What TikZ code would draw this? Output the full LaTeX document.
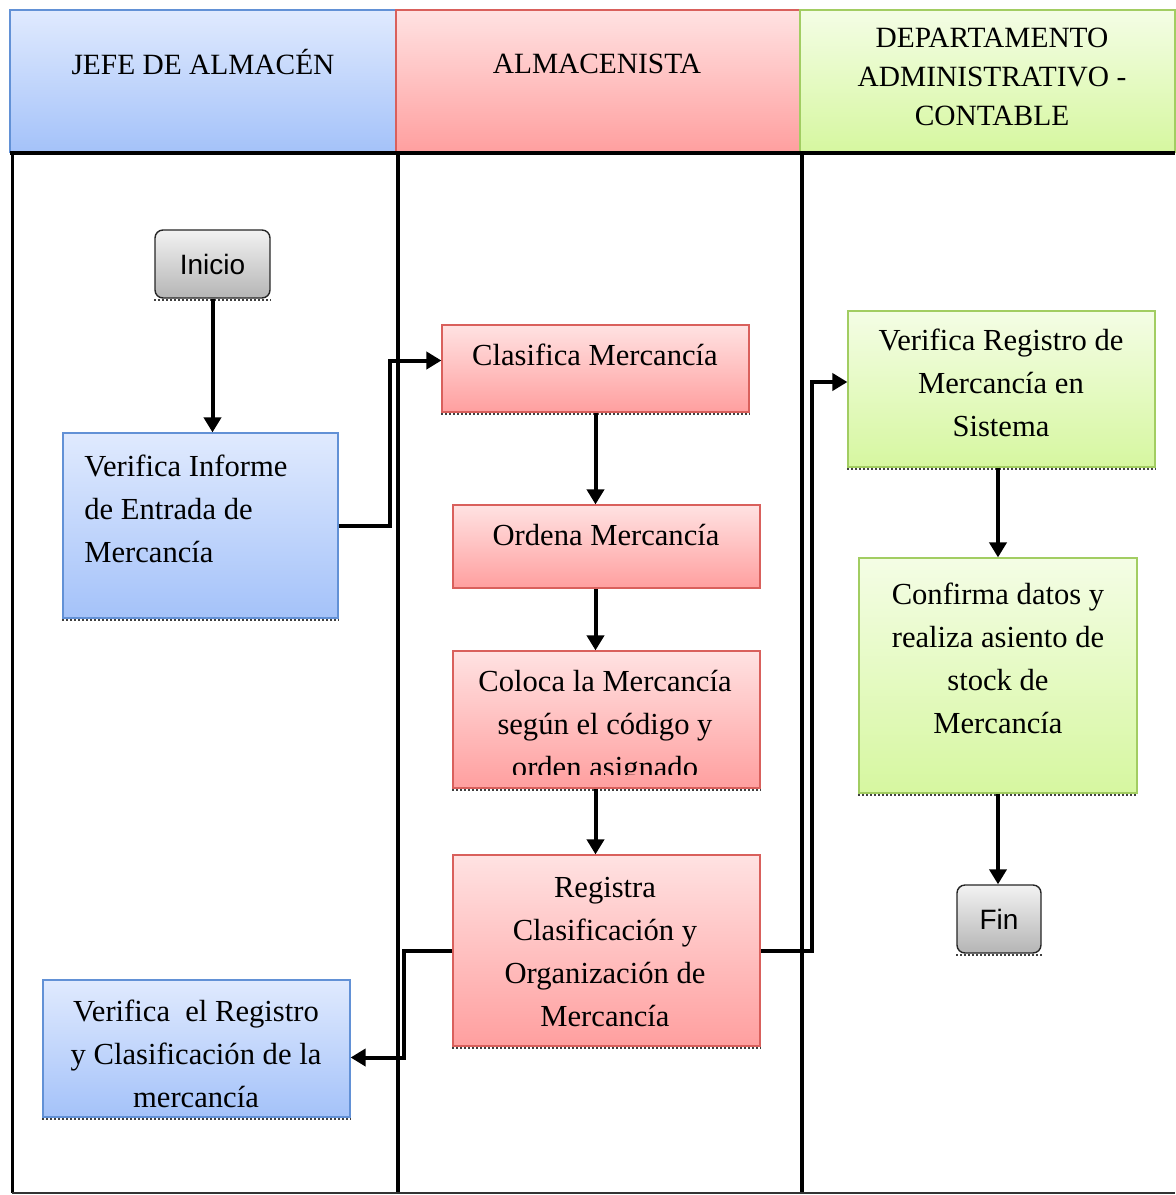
\documentclass[tikz,border=0pt]{standalone}
\usepackage{fontspec}
\setmainfont{Liberation Serif}
\newfontfamily\sansfnt{Liberation Sans}
\usetikzlibrary{arrows.meta,calc}

% palette
\definecolor{blueT}{HTML}{E0EAFE}
\definecolor{blueB}{HTML}{A4C2F9}
\definecolor{blueE}{HTML}{6291D6}
\definecolor{redT}{HTML}{FFE2E2}
\definecolor{redB}{HTML}{FF9F9F}
\definecolor{redE}{HTML}{D9605C}
\definecolor{greenT}{HTML}{F4FDE5}
\definecolor{greenB}{HTML}{D6F7A0}
\definecolor{greenE}{HTML}{A2CD62}
\definecolor{grayT}{HTML}{F2F2F2}
\definecolor{grayB}{HTML}{B5B5B5}

\newcommand\boxfnt{\fontsize{15.3}{21.5}\selectfont}
\newcommand\hdrfnt{\fontsize{14.7}{19.5}\selectfont}

\begin{document}
\begin{tikzpicture}[x=0.5pt,y=-0.5pt,
  bluebox/.style={draw=blueE, line width=0.6pt, top color=blueT, bottom color=blueB, inner sep=0},
  redbox/.style={draw=redE, line width=0.6pt, top color=redT, bottom color=redB, inner sep=0},
  greenbox/.style={draw=greenE, line width=0.6pt, top color=greenT, bottom color=greenB, inner sep=0},
  termbox/.style={draw=black!85, line width=0.7pt, rounded corners=4pt, top color=grayT, bottom color=grayB,
    inner sep=0, font=\sansfnt\fontsize{14}{16}\selectfont},
  txt/.style={font=\boxfnt, align=center, inner sep=0, anchor=north},
  hdrtxt/.style={font=\hdrfnt, align=center, inner sep=0, anchor=north},
  lane/.style={line width=2pt, black},
  flow/.style={line width=2pt, black, -{Triangle[length=7.5pt,width=8.5pt]}},
  shadowline/.style={densely dotted, line width=1pt, black!75}
]
\useasboundingbox (0,0) rectangle (1175,1195);

% lane headers
\node[bluebox, minimum width=193pt, minimum height=71pt] (hjefe) at (203,81) {};
\node[redbox, minimum width=202pt, minimum height=71pt] (halm) at (598,81) {};
\node[greenbox, minimum width=187.5pt, minimum height=71pt] (hdep) at (987.5,81) {};
\node[hdrtxt] (tjefe) at (203,47) {\strut JEFE DE ALMACÉN};
\node[hdrtxt] (talm) at (597,46) {\strut ALMACENISTA};
\node[hdrtxt] (tdep) at (992,20) {\strut DEPARTAMENTO\\ADMINISTRATIVO -\\CONTABLE};

% lane frame
\draw[lane] (10,153) -- (1175,153);
\draw[lane, line width=1.5pt] (12,153) -- (12,1193);
\draw[lane] (398,153) -- (398,1193);
\draw[lane] (802,153) -- (802,1193);
\draw[black!80, line width=0.8pt] (12,1193) -- (1175,1193);

% process boxes
\node[termbox, minimum width=57.5pt, minimum height=34pt] (ini) at (212.5,264) {Inicio};
\node[bluebox, minimum width=137.5pt, minimum height=92.5pt] (vinf) at (200.5,525.5) {};
\node[redbox, minimum width=153.5pt, minimum height=43.5pt] (clas) at (595.5,368.5) {};
\node[redbox, minimum width=153.5pt, minimum height=41.5pt] (ord) at (606.5,546.5) {};
\node[redbox, minimum width=153.5pt, minimum height=68.5pt] (col) at (606.5,719.5) {};
\node[redbox, minimum width=153.5pt, minimum height=95.5pt] (reg) at (606.5,950.5) {};
\node[bluebox, minimum width=153.5pt, minimum height=68.5pt] (vreg) at (196.5,1048.5) {};
\node[greenbox, minimum width=153.5pt, minimum height=78pt] (vsis) at (1001.5,389) {};
\node[greenbox, minimum width=139pt, minimum height=117.5pt] (conf) at (998,675.5) {};
\node[termbox, minimum width=42pt, minimum height=34pt] (fin) at (999,919) {Fin};

% dotted lower edges
\foreach \b in {ini,vinf,clas,col,reg,vreg,vsis,conf,fin}
  \draw[shadowline] ([yshift=-0.6pt]\b.south west) -- ([yshift=-0.6pt]\b.south east);

% box texts
\node[txt, align=left, anchor=north west] (tvinf) at (84,446) {\strut Verifica Informe\\de Entrada de\\Mercancía};
\node[txt] (tclas) at (595,335) {\strut Clasifica Mercancía};
\node[txt] (tord) at (606,515) {\strut Ordena Mercancía};
\begin{scope}
  \clip (col.north west) rectangle ([yshift=7pt]col.south east);
  \node[txt] (tcol) at (605,661) {\strut Coloca la Mercancía\\según el código y\\orden asignado};
\end{scope}
\node[txt] (treg) at (605,867) {\strut Registra\\Clasificación y\\Organización de\\Mercancía};
\node[txt] (tvreg) at (196,991) {\strut Verifica\ \ el Registro\\y Clasificación de la\\mercancía};
\node[txt] (tvsis) at (1001,320) {\strut Verifica Registro de\\Mercancía en\\Sistema};
\node[txt] (tconf) at (998,574) {\strut Confirma datos y\\realiza asiento de\\stock de\\Mercancía};

% connectors
\draw[flow] (ini.south) -- (ini.south |- vinf.north);
\draw[flow] (vinf.east) -- (390,525.5) |- ([yshift=4pt]clas.west);
\draw[flow] (clas.south) -- (clas.south |- ord.north);
\draw[flow] (ord.south -| clas.south) -- (col.north -| clas.south);
\draw[flow] (col.south -| clas.south) -- (reg.north -| clas.south);
\draw[flow] (reg.west) -- (404,950.5) |- ([yshift=-4.5pt]vreg.east);
\draw[flow] (reg.east) -- (812,950.5) |- ([yshift=3.5pt]vsis.west);
\draw[flow] (vsis.south -| conf.north) -- (conf.north);
\draw[flow] (conf.south) -- (conf.south |- fin.north);
\end{tikzpicture}
\end{document}
